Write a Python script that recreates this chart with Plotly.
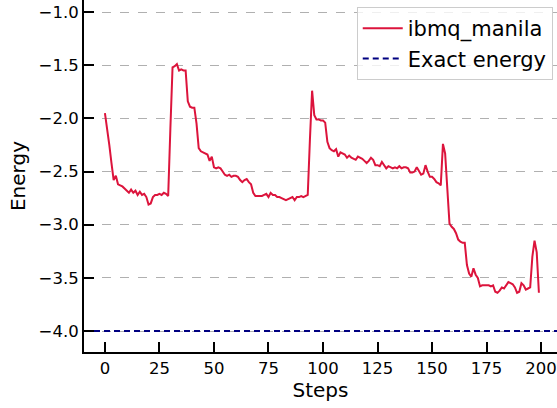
import plotly.graph_objects as go

steps = list(range(200))
energy = [
    -1.95, -2.08, -2.25, -2.42, -2.58, -2.54, -2.62, -2.63, -2.64, -2.66,
    -2.68, -2.70, -2.67, -2.70, -2.68, -2.72, -2.69, -2.72, -2.71, -2.74,
    -2.81, -2.80, -2.74, -2.72, -2.72, -2.71, -2.72, -2.70, -2.71, -2.73,
    -2.10, -1.52, -1.51, -1.49, -1.55, -1.54, -1.55, -1.55, -1.84, -1.89,
    -1.90, -1.90, -2.05, -2.28, -2.31, -2.32, -2.33, -2.34, -2.40, -2.36,
    -2.46, -2.47, -2.46, -2.47, -2.50, -2.53, -2.54, -2.53, -2.55, -2.54,
    -2.54, -2.55, -2.58, -2.60, -2.58, -2.57, -2.60, -2.62, -2.70, -2.73,
    -2.73, -2.73, -2.73, -2.72, -2.71, -2.74, -2.70, -2.72, -2.72, -2.74,
    -2.74, -2.75, -2.76, -2.77, -2.76, -2.75, -2.74, -2.77, -2.74, -2.74,
    -2.73, -2.74, -2.73, -2.72, -2.20, -1.74, -1.97, -2.01, -2.01, -2.02,
    -2.02, -2.04, -2.22, -2.28, -2.30, -2.31, -2.29, -2.36, -2.32, -2.33,
    -2.34, -2.37, -2.35, -2.37, -2.38, -2.39, -2.36, -2.37, -2.38, -2.40,
    -2.42, -2.40, -2.37, -2.39, -2.44, -2.44, -2.45, -2.41, -2.44, -2.47,
    -2.45, -2.46, -2.47, -2.46, -2.47, -2.45, -2.47, -2.46, -2.46, -2.47,
    -2.51, -2.51, -2.50, -2.46, -2.50, -2.53, -2.52, -2.44, -2.50, -2.55,
    -2.55, -2.57, -2.60, -2.61, -2.63, -2.24, -2.33, -2.70, -2.99, -3.02,
    -3.04, -3.08, -3.14, -3.16, -3.17, -3.17, -3.38, -3.46, -3.49, -3.41,
    -3.47, -3.50, -3.58, -3.57, -3.57, -3.57, -3.57, -3.58, -3.57, -3.63,
    -3.64, -3.62, -3.59, -3.60, -3.57, -3.54, -3.55, -3.56, -3.59, -3.64,
    -3.63, -3.55, -3.57, -3.61, -3.60, -3.59, -3.30, -3.15, -3.26, -3.64,
]
exact_energy = -4.0
x_ticks = [0, 25, 50, 75, 100, 125, 150, 175, 200]
y_ticks = [-4.0, -3.5, -3.0, -2.5, -2.0, -1.5, -1.0]
y_tick_labels = ["\u22124.0", "\u22123.5", "\u22123.0", "\u22122.5", "\u22122.0", "\u22121.5", "\u22121.0"]

FONT = "DejaVu Sans"

fig = go.Figure()
fig.add_trace(go.Scatter(
    x=steps, y=energy, mode="lines", name="ibmq_manila",
    line=dict(color="#DC143C", width=2),
))
fig.add_trace(go.Scatter(
    x=[-9.6, 207.3], y=[exact_energy, exact_energy], mode="lines", name="Exact energy",
    line=dict(color="#000080", width=2, dash="6px,4px"),
))

fig.update_layout(
    width=557, height=408,
    margin=dict(l=84, r=0, t=0, b=56),
    paper_bgcolor="white", plot_bgcolor="white",
    font=dict(family=FONT, size=16, color="black"),
    showlegend=True,
    legend=dict(
        x=0.991, y=0.98, xanchor="right", yanchor="top",
        bgcolor="rgba(255,255,255,0.8)", bordercolor="#cccccc", borderwidth=1,
        font=dict(family=FONT, size=21),
        tracegroupgap=0, itemwidth=40,
    ),
    xaxis=dict(
        range=[-9.6, 207.3], tickvals=x_ticks,
        ticks="inside", ticklen=10, tickwidth=2, tickcolor="black",
        showline=True, linecolor="black", linewidth=2,
        showgrid=False, zeroline=False,
        title=dict(text="Steps", font=dict(size=20), standoff=5),
        tickfont=dict(size=16.5),
    ),
    yaxis=dict(
        range=[-4.197, -0.887], tickvals=y_ticks, ticktext=y_tick_labels,
        ticks="inside", ticklen=10, tickwidth=2, tickcolor="black",
        showline=True, linecolor="black", linewidth=2,
        showgrid=True, gridcolor="#b0b0b0", griddash="dash", gridwidth=1,
        zeroline=False,
        title=dict(text="Energy", font=dict(size=20), standoff=8),
        tickfont=dict(size=16.5),
    ),
)

fig.write_html("out.html")
